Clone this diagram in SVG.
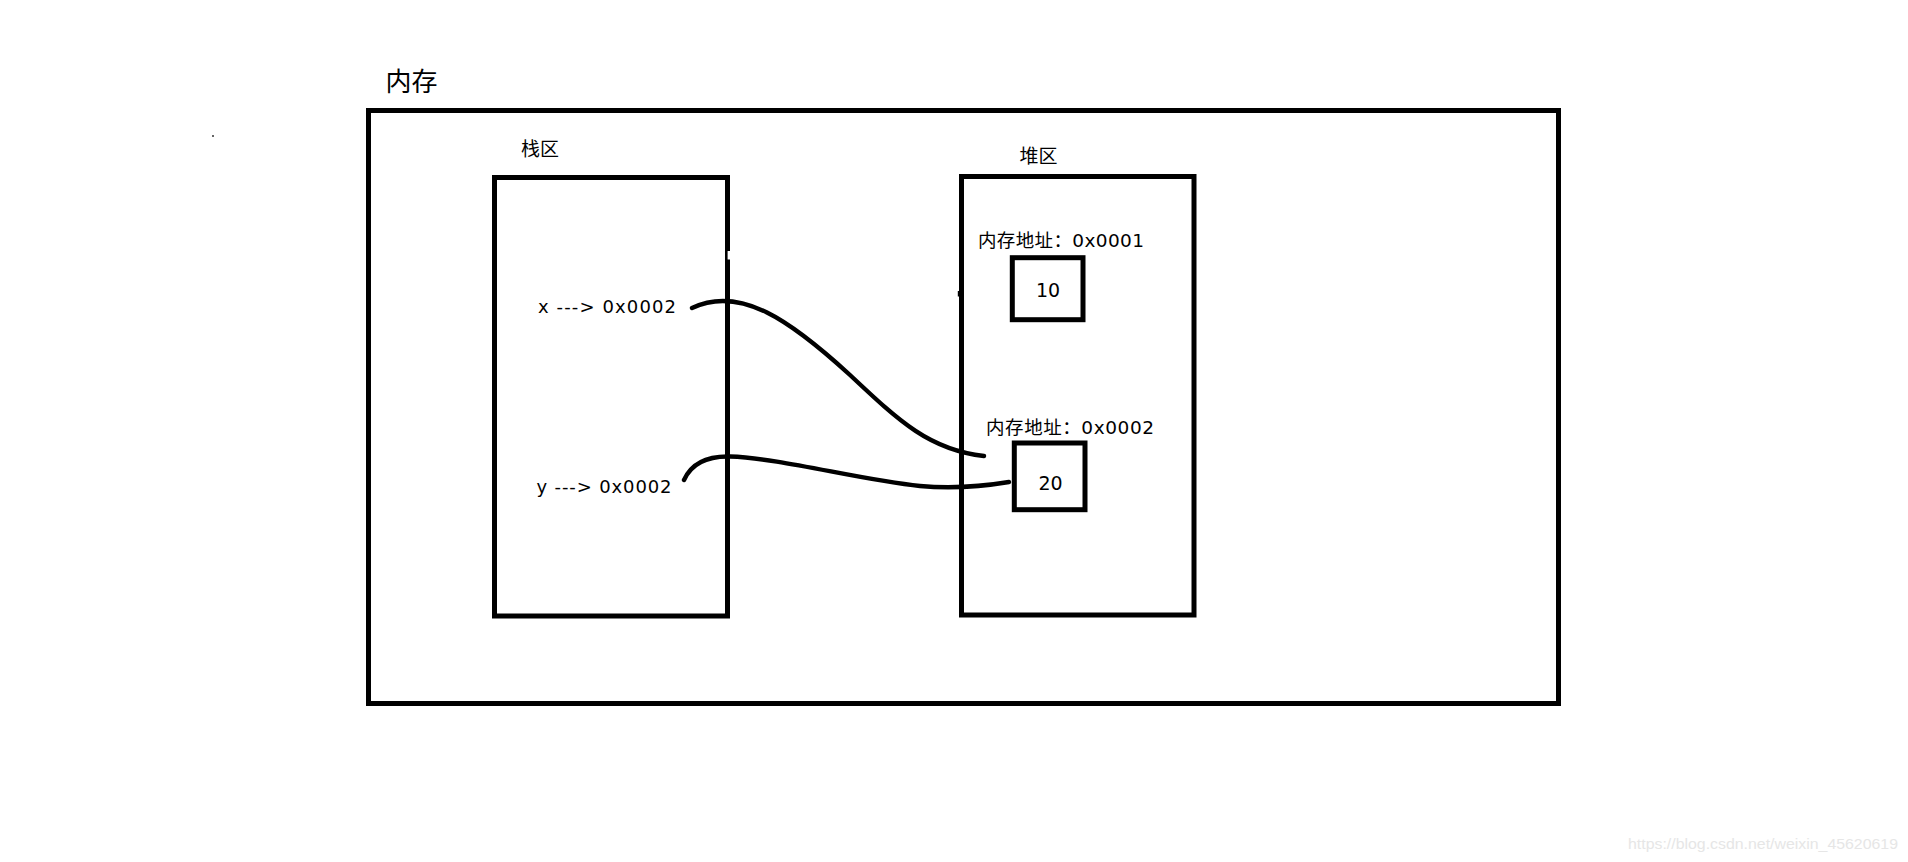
<svg xmlns="http://www.w3.org/2000/svg" width="1908" height="862" viewBox="0 0 1908 862">
<style>
.box{fill:none;stroke:#000;stroke-width:5}
.cjk{font-family:"Noto Sans CJK SC","DejaVu Sans",sans-serif;fill:#000}
.lbl{font-family:"DejaVu Sans","Noto Sans CJK SC",sans-serif;fill:#000}
.wire{fill:none;stroke:#000;stroke-width:4.4;stroke-linecap:round}
</style>
<rect width="1908" height="862" fill="#fff"/>
<rect x="212" y="135" width="2" height="2" fill="#666"/>
<g id="memory">
<rect class="box" x="368.5" y="110.5" width="1190" height="593"/>
<text class="cjk" x="385.5" y="91" font-size="26">内存</text>
</g>
<g id="stack">
<rect class="box" x="494.5" y="177.5" width="233" height="438.5"/>
<rect x="727.6" y="251" width="3" height="8.5" fill="#fff"/>
<text class="cjk" x="521" y="155.5" font-size="19">栈区</text>
<text class="lbl" x="538" y="312.5" font-size="18" textLength="138" lengthAdjust="spacing">x ---&gt; 0x0002</text>
<text class="lbl" x="536.5" y="492.5" font-size="18" textLength="135" lengthAdjust="spacing">y ---&gt; 0x0002</text>
</g>
<g id="heap">
<rect class="box" x="961.5" y="176.5" width="232.5" height="438.5"/>
<rect x="957.8" y="291" width="3" height="5.5" fill="#000"/>
<text class="cjk" x="1019.5" y="162.5" font-size="19">堆区</text>
</g>
<g id="cell10">
<text class="lbl" x="978" y="247.3" font-size="18.5" textLength="166" lengthAdjust="spacing">内存地址：0x0001</text>
<rect class="box" x="1012.3" y="257.7" width="70.7" height="62"/>
<text class="lbl" x="1048" y="297.3" font-size="19" text-anchor="middle">10</text>
</g>
<g id="cell20">
<text class="lbl" x="986" y="434" font-size="18.5" textLength="168" lengthAdjust="spacing">内存地址：0x0002</text>
<rect class="box" x="1014.3" y="443" width="70.7" height="66.7"/>
<text class="lbl" x="1050.5" y="490" font-size="19" text-anchor="middle">20</text>
</g>
<g id="connectors">
<path class="wire" d="M692,308 C740,285 790,320 850,375 C900,422 930,450 984,456"/>
<path class="wire" d="M684,480 C692,462 710,456 730,456.5 C780,458 860,480 920,486 C955,489 985,486 1009,482"/>
</g>
<text x="1628" y="849" font-family="Liberation Sans, Arial, sans-serif" font-size="14.5" fill="#e6e6e6" textLength="270" lengthAdjust="spacingAndGlyphs">https://blog.csdn.net/weixin_45620619</text>
</svg>
